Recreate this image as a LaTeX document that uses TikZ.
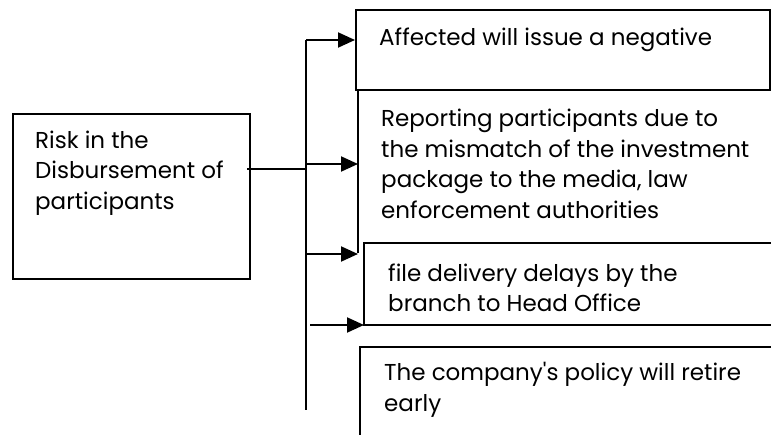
\documentclass[tikz,border=0pt]{standalone}
\usepackage{fontspec}
\setmainfont{Poppins}[Ligatures=TeXOff]
\usetikzlibrary{arrows.meta}
\tikzset{
  frame/.style={draw,line width=1.8pt,inner sep=0pt},
  txt/.style={anchor=west,align=left,inner sep=0pt,font=\fontsize{23}{30.5}\selectfont},
  branch/.style={line width=2pt,-{Triangle[length=17pt,width=15pt]}}
}
\begin{document}
\begin{tikzpicture}[x=1pt,y=-1pt]
\useasboundingbox (0,0) rectangle (771,435);
% left box
\node[frame,minimum width=237pt,minimum height=165pt,anchor=north west] (riskbox) at (12,113) {};
\node[txt] (risk) at (35,173) {Risk in the\\Disbursement of\\participants};
% right boxes
\node[frame,minimum width=414pt,minimum height=80pt,anchor=north west] (affectedbox) at (355,9) {};
\node[txt] (affected) at (379,40) {Affected will issue a negative};
\node[txt] (reporting) at (381,164) {Reporting participants due to\\the mismatch of the investment\\package to the media, law\\enforcement authorities};
\node[txt] (delays) at (388,288) {file delivery delays by the\\branch to Head Office};
\node[txt] (policy) at (384,390) {The company's policy will retire\\early};
\draw[line width=1.8pt] (358,89) -- (358,253);
\draw[line width=1.8pt] (771,243) -- (364,243) -- (364,325) -- (771,325);
\draw[line width=1.8pt] (771,347) -- (360,347) -- (360,435);
% trunk
\coordinate (trunktop) at (306,40);
\coordinate (trunkbot) at (306,410);
\coordinate (riskout) at (247,169);
\draw[line width=2pt] (trunktop) -- (trunkbot);
\draw[line width=1.8pt] (riskout) -- (trunktop |- riskout);
\draw[branch] (trunktop) -- (affectedbox.west |- affected);
\draw[branch] (trunktop |- reporting) -- (358,164);
\draw[branch] (306,254) -- (358,254);
\draw[branch] (310,325) -- (364,325);
\end{tikzpicture}
\end{document}
